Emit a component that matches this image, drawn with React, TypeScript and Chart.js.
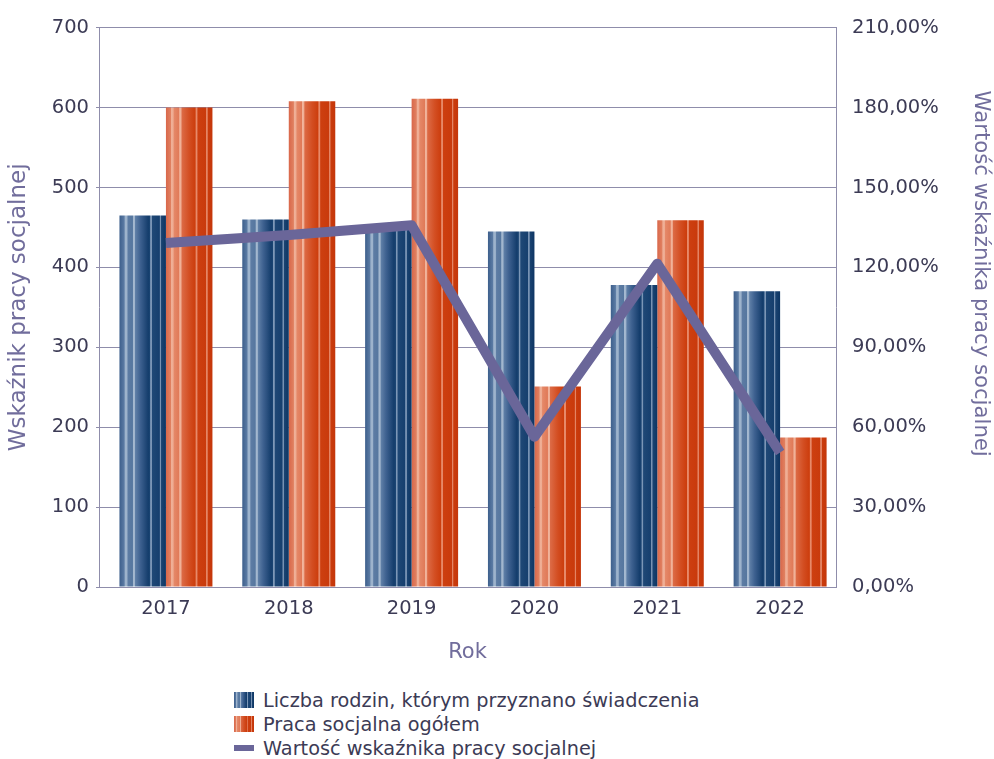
import React, { useEffect, useRef } from "react";
import { Chart, registerables } from "chart.js";

Chart.register(...registerables);

const categories = ["2017", "2018", "2019", "2020", "2021", "2022"];
const familiesValues = [465, 460, 450, 445, 378, 370];
const socialWorkValues = [600, 608, 611, 251, 459, 187];
const indicatorValues = [129.2, 132.2, 135.8, 56.4, 121.4, 50.5];

const seriesNames = [
  "Liczba rodzin, którym przyznano świadczenia",
  "Praca socjalna ogółem",
  "Wartość wskaźnika pracy socjalnej",
];
const leftTitle = "Wskaźnik pracy socjalnej";
const rightTitle = "Wartość wskaźnika pracy socjalnej";
const xTitle = "Rok";

const FONT = "'DejaVu Sans', sans-serif";
const GRID = "#8f8dab";
const TICK = "#3c3b55";
const TITLE = "#716d9c";
const LINE = "#6a6699";
const CAT_PCT = 0.757;
const TICK_SIZE = 19.5;

const blueStops: [number, string][] = [
  [0, "#3d5f8c"], [0.1, "#5a7aa3"], [0.125, "#9db3cc"], [0.16, "#9db3cc"], [0.185, "#5d7ca4"],
  [0.28, "#56779f"], [0.295, "#a5b9d0"], [0.325, "#a0b5cd"], [0.345, "#5f7fa7"],
  [0.45, "#3e6190"], [0.62, "#143d6c"], [0.655, "#1a4472"], [0.67, "#7d98b8"], [0.69, "#7a95b5"],
  [0.705, "#1f4876"], [0.86, "#163f6e"], [0.87, "#7893b4"], [0.89, "#7590b1"], [0.905, "#1a4371"],
  [1, "#0d3563"],
];
const orangeStops: [number, string][] = [
  [0, "#d9674a"], [0.1, "#e08060"], [0.12, "#f0b098"], [0.155, "#eeac92"], [0.175, "#e58868"],
  [0.28, "#e07a58"], [0.295, "#f2b49c"], [0.325, "#efae94"], [0.345, "#dc6a45"],
  [0.5, "#d34e22"], [0.63, "#cc3d0d"], [0.645, "#e88a68"], [0.67, "#e6886a"], [0.685, "#cd3f10"],
  [0.86, "#c93a0c"], [0.87, "#e58565"], [0.89, "#e38363"], [0.905, "#ca3b0c"], [1, "#c4360a"],
];

function cssGradient(stops: [number, string][]) {
  return `linear-gradient(to right, ${stops.map(([o, c]) => `${c} ${(o * 100).toFixed(1)}%`).join(", ")})`;
}

function barGradient(stops: [number, string][], fallback: string) {
  return (ctx: any) => {
    const chart = ctx.chart;
    const xs = chart.scales && chart.scales.x;
    if (!xs || ctx.dataIndex === undefined || !chart.chartArea) return fallback;
    const n = chart.data.labels.length;
    const cw = (xs.right - xs.left) / n;
    const center = xs.getPixelForValue(ctx.dataIndex);
    const bw = (cw * CAT_PCT) / 2;
    const left = ctx.datasetIndex === 0 ? center - bw : center;
    const g = chart.ctx.createLinearGradient(left, 0, left + bw, 0);
    stops.forEach(([o, c]) => g.addColorStop(o, c));
    return g;
  };
}

// the original plot places its categories slightly right of the axis box centre
const shiftCategories = {
  id: "shiftCategories",
  afterLayout(chart: any) {
    const xs = chart.scales.x;
    if (xs) xs._startValue = -0.545;
  },
};

export default function App() {
  const ref = useRef<HTMLCanvasElement | null>(null);

  useEffect(() => {
    document.body.style.margin = "0";
    if (!ref.current) return;
    const chart = new Chart(ref.current, {
      type: "bar",
      data: {
        labels: categories,
        datasets: [
          {
            type: "bar",
            label: seriesNames[0],
            data: familiesValues,
            backgroundColor: barGradient(blueStops, "#1f4876"),
            borderWidth: 0,
            yAxisID: "y",
            order: 1,
          },
          {
            type: "bar",
            label: seriesNames[1],
            data: socialWorkValues,
            backgroundColor: barGradient(orangeStops, "#d34e22"),
            borderWidth: 0,
            yAxisID: "y",
            order: 2,
          },
          {
            type: "line",
            label: seriesNames[2],
            data: indicatorValues,
            borderColor: LINE,
            backgroundColor: LINE,
            borderWidth: 10,
            pointRadius: 0,
            borderCapStyle: "butt",
            borderJoinStyle: "round",
            tension: 0,
            yAxisID: "y1",
            order: 0,
          } as any,
        ],
      },
      plugins: [shiftCategories],
      options: {
        responsive: false,
        maintainAspectRatio: false,
        animation: false,
        layout: { padding: { top: 23, left: 0, right: 0, bottom: 0 } },
        datasets: {
          bar: { categoryPercentage: CAT_PCT, barPercentage: 1 },
        },
        plugins: {
          legend: { display: false },
          tooltip: { enabled: false },
        },
        scales: {
          x: {
            offset: true,
            grid: { display: false, drawTicks: false },
            border: { display: true, color: GRID, width: 1 },
            ticks: { color: TICK, font: { family: FONT, size: TICK_SIZE }, padding: 10 },
            title: {
              display: true,
              text: xTitle,
              color: TITLE,
              font: { family: FONT, size: 21 },
              padding: { top: 4, bottom: 15 },
            },
            afterFit: (s: any) => { s.height = 93; },
          },
          y: {
            position: "left",
            min: 0,
            max: 700,
            ticks: { stepSize: 100, color: TICK, font: { family: FONT, size: TICK_SIZE }, padding: 7 },
            grid: { color: GRID, lineWidth: 1, drawTicks: true, tickLength: 3 },
            border: { display: true, color: GRID, width: 1 },
            title: {
              display: true,
              text: leftTitle,
              color: TITLE,
              font: { family: FONT, size: 23 },
              padding: { top: 5, bottom: 0 },
            },
            afterFit: (s: any) => { s.width = 99; },
          },
          y1: {
            position: "right",
            min: 0,
            max: 210,
            ticks: {
              stepSize: 30,
              color: TICK,
              font: { family: FONT, size: TICK_SIZE },
              padding: 16,
              callback: (v: any) => `${Number(v).toFixed(2).replace(".", ",")}%`,
            },
            grid: { display: false, drawTicks: false },
            border: { display: true, color: GRID, width: 1 },
            title: {
              display: true,
              text: rightTitle + "          ",
              color: TITLE,
              font: { family: FONT, size: 21.2 },
              padding: { top: 1, bottom: 0 },
            },
            afterFit: (s: any) => { s.width = 158; },
          },
        },
      } as any,
    });
    return () => chart.destroy();
  }, []);

  const swatches = [
    { bg: cssGradient(blueStops), h: 16 },
    { bg: cssGradient(orangeStops), h: 16 },
    { bg: LINE, h: 6 },
  ];

  return (
    <div style={{ position: "relative", width: 994, height: 759, overflow: "hidden", background: "#fff" }}>
      <canvas ref={ref} width={994} height={680} style={{ display: "block" }} />
      <div style={{ position: "absolute", left: 234, top: 688, fontFamily: FONT, fontSize: 19.3, color: TICK }}>
        {seriesNames.map((name, i) => (
          <div key={name} style={{ display: "flex", alignItems: "center", height: 24, whiteSpace: "nowrap" }}>
            <span style={{ display: "inline-block", width: 20, height: swatches[i].h, background: swatches[i].bg, marginRight: 9 }} />
            <span>{name}</span>
          </div>
        ))}
      </div>
    </div>
  );
}
